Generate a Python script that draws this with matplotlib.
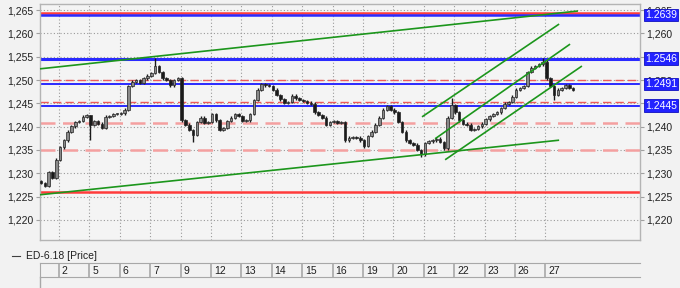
""" Price chart ED-6.18 with trend lines and support/resistance levels. """

import matplotlib
matplotlib.use("Agg")
from matplotlib import pyplot as plt
from matplotlib.lines import Line2D
from matplotlib.ticker import FuncFormatter
from matplotlib.transforms import blended_transform_factory
import numpy as np

plt.rcParams['font.family'] = ['Liberation Sans', 'DejaVu Sans']

# Day labels on the time axis (one gridline per trading day)
day_labels = ["2", "5", "6", "7", "9", "12", "13", "14", "15", "16",
              "19", "20", "21", "22", "23", "26", "27"]

# Closing prices, 8 bars per day
closes = [
    1.2279, 1.2273, 1.2303, 1.2290, 1.2329, 1.2356, 1.2371, 1.2389,
    1.2401, 1.2410, 1.2412, 1.2421, 1.2425, 1.2404, 1.2412, 1.2406,
    1.2397, 1.2421, 1.2423, 1.2427, 1.2427, 1.2429, 1.2436, 1.2487,
    1.2496, 1.2500, 1.2494, 1.2504, 1.2509, 1.2515, 1.2530, 1.2517,
    1.2504, 1.2500, 1.2489, 1.2500, 1.2504, 1.2414, 1.2404, 1.2393,
    1.2382, 1.2410, 1.2419, 1.2408, 1.2410, 1.2427, 1.2414, 1.2393,
    1.2397, 1.2412, 1.2419, 1.2427, 1.2423, 1.2412, 1.2414, 1.2427,
    1.2457, 1.2479, 1.2491, 1.2489, 1.2487, 1.2479, 1.2468, 1.2459,
    1.2451, 1.2453, 1.2466, 1.2461, 1.2457, 1.2455, 1.2451, 1.2449,
    1.2431, 1.2425, 1.2419, 1.2404, 1.2410, 1.2412, 1.2408, 1.2410,
    1.2371, 1.2376, 1.2378, 1.2376, 1.2371, 1.2359, 1.2380, 1.2389,
    1.2404, 1.2419, 1.2436, 1.2444, 1.2436, 1.2431, 1.2410, 1.2389,
    1.2371, 1.2365, 1.2361, 1.2350, 1.2341, 1.2365, 1.2369, 1.2371,
    1.2374, 1.2367, 1.2354, 1.2419, 1.2446, 1.2431, 1.2414, 1.2406,
    1.2404, 1.2393, 1.2395, 1.2401, 1.2406, 1.2416, 1.2423, 1.2427,
    1.2431, 1.2440, 1.2449, 1.2453, 1.2464, 1.2479, 1.2483, 1.2487,
    1.2517, 1.2526, 1.2530, 1.2534, 1.2539, 1.2504, 1.2487, 1.2468,
    1.2479, 1.2483, 1.2489, 1.2483, 1.2479,
]

# Bars whose wick reaches well past the body: index -> (low, high)
spikes = {
    13: (1.2371, 1.2425),
    30: (1.2512, 1.2547),
    40: (1.2367, 1.2395),
    85: (1.2355, 1.2373),
    100: (1.2335, 1.2352),
    108: (1.2417, 1.2461),
    132: (1.2531, 1.2547),
    135: (1.2457, 1.2489),
}

# Horizontal levels
blue_levels = [1.2639, 1.2546, 1.2491, 1.2445]
red_levels = [1.2644, 1.2260]
red_dash_levels = [1.2499, 1.2452]
pink_dash_levels = [1.2407, 1.2350]

# Trend lines: (day_start, price_start, day_end, price_end)
trend_lines = [
    (-0.625, 1.2524, 17.07, 1.2648),
    (-0.625, 1.2254, 16.45, 1.2371),
    (11.94, 1.2421, 16.45, 1.2620),
    (12.37, 1.2374, 16.81, 1.2577),
    (12.70, 1.2329, 17.20, 1.2530),
]

W, H = 680, 288
bg = '#f2f2f2'

fig = plt.figure(figsize=(W / 100, H / 100), dpi=100, facecolor=bg)
ax = fig.add_axes([40 / W, 48 / H, 600 / W, 236 / H], facecolor='#f4f4f4')

x0, x1 = -0.625, 19.11
ax.set_xlim(x0, x1)
ax.set_ylim(1.2157, 1.2663)

# Grid
ax.set_xticks(range(len(day_labels)))
ax.set_yticks(np.arange(1.220, 1.2651, 0.005))
ax.grid(True, linestyle=(0, (1, 2)), color='#9a9a9a', linewidth=0.8, zorder=0)
ax.tick_params(axis='x', length=0, labelbottom=False)
ax.tick_params(axis='y', left=True, right=True, labelleft=True, labelright=True,
               length=3, width=0.8, color='#a0a0a0', labelsize=7.5,
               labelcolor='#202020', pad=1.5)
ax.yaxis.set_major_formatter(FuncFormatter(lambda v, p: f"{v:.3f}".replace('.', ',')))
# right-hand labels fully covered by the value boxes are not drawn
for t, v in zip(ax.yaxis.get_major_ticks(), ax.get_yticks()):
    if round(v, 3) in (1.255, 1.245):
        t.label2.set_visible(False)
for s in ax.spines.values():
    s.set_color('#b4b4b4')
    s.set_linewidth(1)

# Levels
for lv in red_levels:
    ax.axhline(lv, color='#ff3b3b', linewidth=1.8, zorder=2)
for lv in red_dash_levels:
    ax.axhline(lv, color='#ee5a5a', linewidth=1.0, linestyle=(0, (6, 3)), zorder=2)
for lv in pink_dash_levels:
    ax.axhline(lv, color='#f4a0a0', linewidth=1.8, linestyle=(0, (6, 3)), zorder=2)
for lv, lw in zip(blue_levels, [1.8, 2.2, 1.4, 1.4]):
    ax.axhline(lv, color='#2a2aff', linewidth=lw, zorder=2)

# Candles
xs = -0.59 + np.arange(len(closes)) * 0.125
for i, c in enumerate(closes):
    o = closes[i - 1] if i > 0 else c + 0.0004
    lo, hi = min(o, c) - 0.0003, max(o, c) + 0.0003
    if i in spikes:
        lo, hi = spikes[i]
    ax.vlines(xs[i], lo, hi, color='#1a1a1a', linewidth=1.0, zorder=3)
    up = c >= o
    ax.bar(xs[i], max(abs(c - o), 0.00015), bottom=min(o, c), width=0.085,
           color='#8a8a8a' if up else '#1a1a1a', edgecolor='#262626',
           linewidth=0.5, zorder=3)

# Trend lines
for d0, p0, d1, p1 in trend_lines:
    ax.plot([d0, d1], [p0, p1], color='#1c961c', linewidth=1.2,
            solid_capstyle='butt', zorder=4, clip_on=False)

# Value boxes on the right
trans = blended_transform_factory(ax.transAxes, ax.transData)
for lv in blue_levels:
    ax.text(605 / 600, lv, f"{lv:.4f}", transform=trans, ha='left', va='center',
            color='white', fontsize=7.5, zorder=6, clip_on=False,
            bbox=dict(boxstyle='square,pad=0.12', fc='#2222ff', ec='#1010c0', lw=0.6))

# Legend line
fig.add_artist(Line2D([12 / W, 20 / W], [1 - 256 / H, 1 - 256 / H],
                      color='#404040', linewidth=0.8))
fig.text(26 / W, 1 - 256 / H, "ED-6.18 [Price]", fontsize=7.5, va='center',
         color='#202020')

# Date label row
lab = fig.add_axes([40 / W, 11 / H, 600 / W, 14 / H], facecolor=bg)
lab.set_xlim(x0, x1)
lab.set_ylim(0, 1)
lab.set_xticks([])
lab.set_yticks([])
for s in lab.spines.values():
    s.set_color('#a8a8a8')
lab.spines['right'].set_visible(False)
for i, lbl in enumerate(day_labels):
    lab.axvline(i, color='#a8a8a8', linewidth=1.2)
    lab.text(i + 0.09, 0.45, lbl, fontsize=7.5, va='center', ha='left', color='#202020')

fig.add_artist(Line2D([40 / W, 40 / W], [0, 11 / H], color='#a8a8a8', linewidth=1))

fig.savefig("out.png", dpi=100, facecolor=bg)
